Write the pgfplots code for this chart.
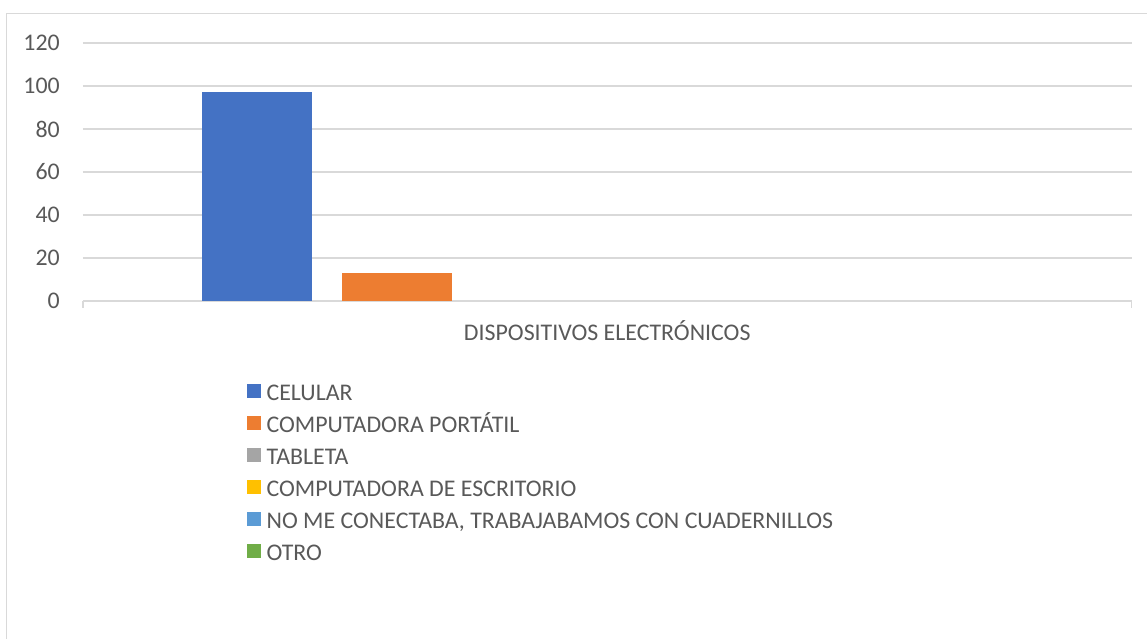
\documentclass[border=0pt]{standalone}
\usepackage{fontspec}
\setmainfont{Carlito}
\usepackage{pgfplots}
\pgfplotsset{compat=1.18}
\definecolor{cA}{HTML}{4472C4}
\definecolor{cB}{HTML}{ED7D31}
\definecolor{cC}{HTML}{A5A5A5}
\definecolor{cD}{HTML}{FFC000}
\definecolor{cE}{HTML}{5B9BD5}
\definecolor{cF}{HTML}{70AD47}
\definecolor{gridc}{HTML}{D9D9D9}
\definecolor{txt}{HTML}{595959}
\begin{document}
\begin{tikzpicture}
\path[use as bounding box] (0pt,0pt) rectangle (860.25pt,479.25pt);
\draw[gridc, line width=1.1pt] (4.875pt,0pt) -- (4.875pt,469.125pt) -- (861pt,469.125pt);
\begin{axis}[
  at={(62.25pt,253.5pt)}, anchor=south west,
  scale only axis, width=786.375pt, height=193.5pt,
  xmin=-0.5, xmax=0.5, ymin=0, ymax=120,
  ybar=22.5pt, bar width=82.5pt,
  axis line style={draw=none},
  tick style={draw=none}, major tick length=0pt,
  xtick={0}, xticklabels={DISPOSITIVOS ELECTRÓNICOS},
  ytick={0,20,40,60,80,100,120},
  ymajorgrids, grid style={gridc, line width=1.1pt},
  font=\fontsize{17.9}{21}\selectfont,
  /pgf/number format/assume math mode=true,
  ticklabel style={text=txt, inner sep=0pt},
  yticklabel style={anchor=east, xshift=-17.25pt},
  xticklabel style={anchor=base, yshift=-30pt},
  legend cell align=left,
  legend style={at={(0.1564,-0.3217)}, anchor=north west, draw=none, fill=none,
    inner sep=0pt, row sep=9pt, font=\fontsize{17.9}{21}\selectfont,
    nodes={inner sep=0pt, text height=12pt, text depth=3pt, text=txt},
    /tikz/every odd column/.style={column sep=4.5pt}},
  clip=false,
]
\addplot[fill=cA, draw=none, legend image code/.code={\fill[cA, fill opacity=1] (0pt,-3pt) rectangle (10pt,7.5pt);}] coordinates {(0,97)};
\addplot[fill=cB, draw=none, legend image code/.code={\fill[cB, fill opacity=1] (0pt,-3pt) rectangle (10pt,7.5pt);}] coordinates {(0,13)};
\addplot[fill=cC, fill opacity=0, draw=none, legend image code/.code={\fill[cC, fill opacity=1] (0pt,-3pt) rectangle (10pt,7.5pt);}] coordinates {(0,0)};
\addplot[fill=cD, fill opacity=0, draw=none, legend image code/.code={\fill[cD, fill opacity=1] (0pt,-3pt) rectangle (10pt,7.5pt);}] coordinates {(0,0)};
\addplot[fill=cE, fill opacity=0, draw=none, legend image code/.code={\fill[cE, fill opacity=1] (0pt,-3pt) rectangle (10pt,7.5pt);}] coordinates {(0,0)};
\addplot[fill=cF, fill opacity=0, draw=none, legend image code/.code={\fill[cF, fill opacity=1] (0pt,-3pt) rectangle (10pt,7.5pt);}] coordinates {(0,0)};
\legend{CELULAR, COMPUTADORA PORTÁTIL, TABLETA, COMPUTADORA DE ESCRITORIO, {NO ME CONECTABA, TRABAJABAMOS CON CUADERNILLOS}, OTRO}
\draw[gridc, line width=1.1pt] (rel axis cs:0,0) -- ++(0pt,-5.25pt);
\draw[gridc, line width=1.1pt] (rel axis cs:1,0) -- ++(0pt,-5.25pt);
\end{axis}
\end{tikzpicture}
\end{document}
